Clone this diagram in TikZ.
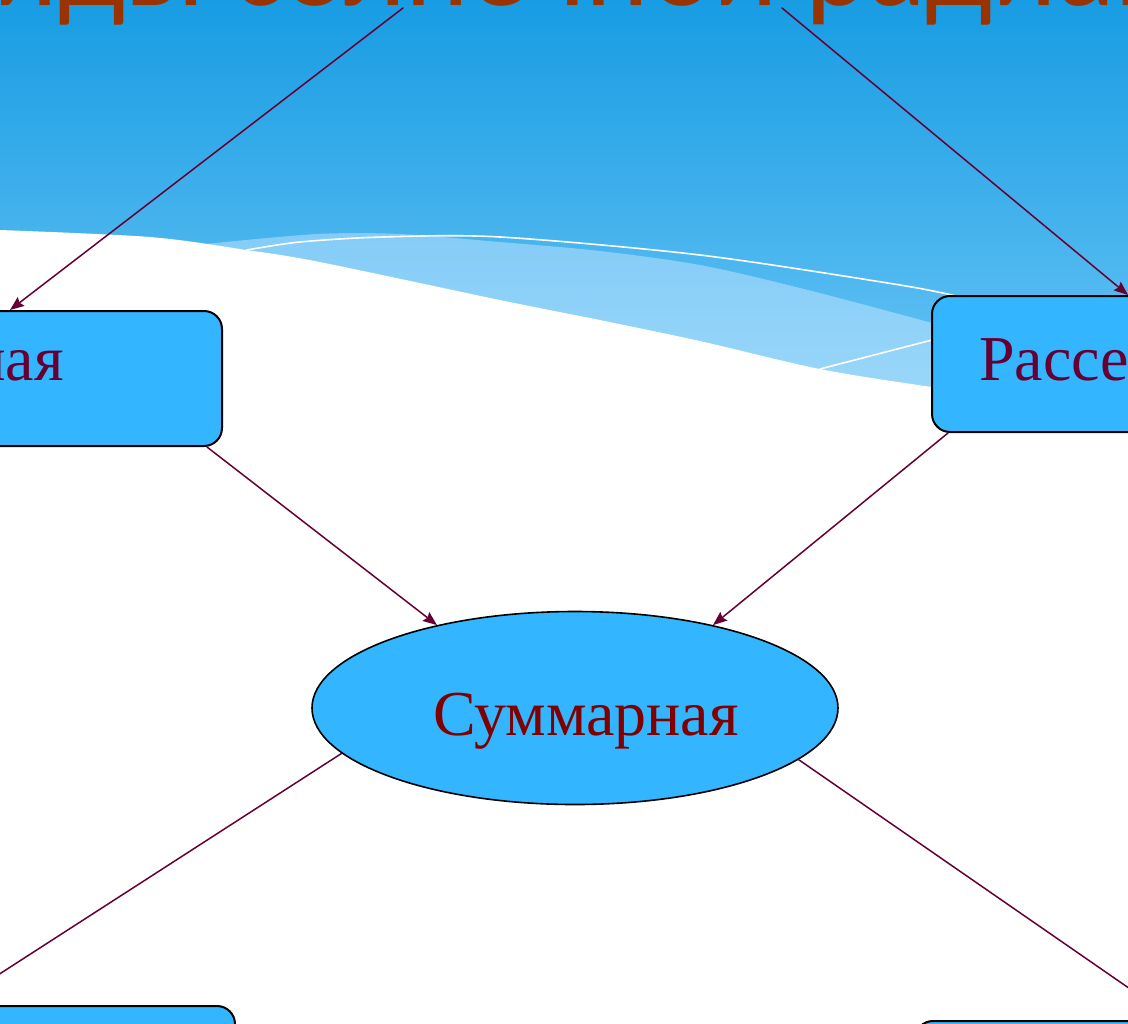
\documentclass[tikz,border=0pt]{standalone}
\usepackage{fontspec}
\setmainfont{Liberation Serif}
\newfontfamily\titlefont{Carlito}
\usetikzlibrary{shapes.geometric,arrows.meta}

\definecolor{skytop}{HTML}{189CE3}
\definecolor{skybot}{HTML}{6CC6F6}
\definecolor{bandtop}{HTML}{84CCF7}
\definecolor{bandbot}{HTML}{9DD8FA}
\definecolor{boxfill}{HTML}{33B5FF}
\definecolor{titlecol}{HTML}{993300}
\definecolor{plum}{HTML}{660033}
\definecolor{maroon}{HTML}{800000}

\begin{document}
\begin{tikzpicture}[x=.5pt,y=-.5pt,line cap=round,line join=round,
  slidebox/.style={draw,line width=1pt,rounded corners=9pt,fill=boxfill,
    font=\fontsize{32}{36}\selectfont,text=plum},
  oval/.style={ellipse,draw,line width=.8pt,fill=boxfill,inner sep=0pt,
    minimum width=263pt,minimum height=96.5pt,
    font=\fontsize{32}{36}\selectfont,text=maroon},
  link/.style={draw=plum,line width=.75pt,
    -{Stealth[length=7pt,width=5.5pt,inset=1pt]}}]

\useasboundingbox (0,0) rectangle (1128,1023);
\clip (0,0) rectangle (1128,1023);

% Slide background: sky, light band, white lower part.
\shade[top color=skytop,bottom color=skybot] (0,0) rectangle (1128,420);
\shade[top color=bandtop,bottom color=bandbot] (205,244)
  plot[smooth] coordinates {(205,244) (317,234) (400,234) (500,242) (600,251)
    (700,265) (800,288) (932,323) (1128,378)}
  -- plot[smooth] coordinates {(1128,415) (932,387) (820,369) (700,341)
    (600,320) (500,300) (320,262) (247,250) (205,244)} -- cycle;
\fill[white] plot[smooth] coordinates {(0,230) (150,237) (247,250) (320,262)
  (500,300) (600,320) (700,341) (820,369) (932,387) (1128,415)}
  -- (1128,1023) -- (0,1023) -- cycle;
\draw[white,line width=.8pt] plot[smooth] coordinates {(247,250) (300,242)
  (383,237) (500,237) (700,255) (900,285) (960,297)};
\draw[white,line width=.8pt] (820,369) -- (932,340);

% Title, only its lower edge is on the crop.
\node[anchor=base,inner sep=0pt,text=titlecol,
  font=\titlefont\fontsize{60}{66}\selectfont] (title) at (619,5)
  {Виды солнечной радиации};
\coordinate (t1) at (403,8);
\coordinate (t2) at (782,8);

% Kinds of radiation.
\node[slidebox,minimum width=261pt,minimum height=67.5pt,
  text height=22pt,text depth=20.5pt] (direct) at (-39,378.5) {Прямая};
\node[slidebox,minimum width=200pt,minimum height=68pt,
  text height=22pt,text depth=6pt] (diffuse) at (1132,364) {Рассеянная};
\node[oval,text height=27pt,text depth=0pt] (total) at (575,708)
  {\hspace{11pt}Суммарная};
\node[slidebox,minimum width=261pt,minimum height=67pt] (absorbed) at (-26,1073) {};
\node[slidebox,minimum width=205pt,minimum height=68pt] (reflected) at (1120,1089) {};

% Arrow ends on the box edges.
\coordinate (d1) at ([xshift=24.5pt]direct.north);
\coordinate (d2) at ([xshift=123pt]direct.south);
\coordinate (s1) at ([xshift=-2pt]diffuse.north);
\coordinate (s2) at ([xshift=-92pt]diffuse.south);
\coordinate (a1) at ([xshift=-11.3pt]absorbed.north);
\coordinate (r1) at ([xshift=27.5pt]reflected.north);

\foreach \a/\b in {t1/d1,t2/s1,d2/total.149,s2/total.31.3,
  total.191.7/a1,total.347.5/r1}
  \draw[link] (\a) -- (\b);
\end{tikzpicture}
\end{document}
